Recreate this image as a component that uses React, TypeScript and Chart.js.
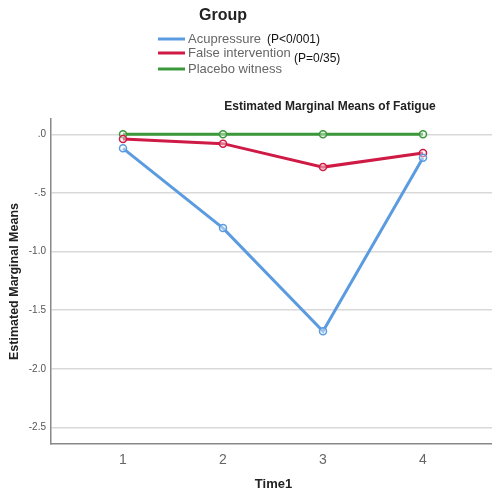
import React, { useEffect, useRef } from "react";
import { Chart, registerables } from "chart.js";

Chart.register(...registerables);

const timeLabels = [1, 2, 3, 4];
const acupressure = [-0.12, -0.8, -1.68, -0.2];
const falseIntervention = [-0.04, -0.08, -0.28, -0.16];
const placeboWitness = [0, 0, 0, 0];
const groupNames = ["Acupressure", "False intervention", "Placebo witness"];
const pNotes = ["(P<0/001)", "(P=0/35)", ""];
const groupColors = ["#5b9be0", "#cf1a45", "#3b983b"];
const yTicks = [0, -0.5, -1, -1.5, -2, -2.5];
const chartTitle = "Estimated Marginal Means of Fatigue";
const yTitle = "Estimated Marginal Means";
const xTitle = "Time1";
const legendTitle = "Group";

const FONT = "'Liberation Sans', Arial, sans-serif";

const fmtTick = (v: number) => {
  if (v === 0) return ".0";
  return v.toFixed(1).replace("-0.", "-.");
};

const textPlugin = {
  id: "customText",
  afterDraw(chart: any) {
    const ctx = chart.ctx as CanvasRenderingContext2D;
    const area = chart.chartArea;
    ctx.save();
    // Legend title
    ctx.fillStyle = "#222";
    ctx.font = `bold 16px ${FONT}`;
    ctx.textAlign = "left";
    ctx.textBaseline = "middle";
    ctx.fillText(legendTitle, 199, 16);
    // Legend items
    const rowY = [39, 53, 69];
    const noteX = [267, 294, 0];
    const noteY = [40, 59, 0];
    groupNames.forEach((name, i) => {
      ctx.strokeStyle = groupColors[i];
      ctx.lineWidth = 3;
      ctx.beginPath();
      ctx.moveTo(158, rowY[i]);
      ctx.lineTo(185, rowY[i]);
      ctx.stroke();
      ctx.fillStyle = "#666";
      ctx.font = `13px ${FONT}`;
      ctx.textAlign = "left";
      ctx.textBaseline = "middle";
      ctx.fillText(name, 188, rowY[i]);
      if (pNotes[i]) {
        ctx.fillStyle = "#111";
        ctx.font = `12px ${FONT}`;
        ctx.fillText(pNotes[i], noteX[i], noteY[i]);
      }
    });
    // Chart title
    ctx.fillStyle = "#222";
    ctx.font = `bold 12px ${FONT}`;
    ctx.textAlign = "center";
    ctx.textBaseline = "middle";
    ctx.fillText(chartTitle, 330, 107);
    // X title
    ctx.font = `bold 13px ${FONT}`;
    ctx.fillText(xTitle, (area.left + area.right) / 2 + 2, 484);
    // Y title
    ctx.translate(15, (area.top + area.bottom) / 2);
    ctx.rotate(-Math.PI / 2);
    ctx.font = `bold 12.5px ${FONT}`;
    ctx.fillText(yTitle, 0, 0);
    ctx.restore();
  },
};

export default function App() {
  const ref = useRef<HTMLCanvasElement>(null);
  useEffect(() => {
    const series = [acupressure, falseIntervention, placeboWitness];
    const chart = new Chart(ref.current!, {
      type: "line",
      data: {
        datasets: series.map((vals, i) => ({
          label: groupNames[i],
          data: vals.map((v, j) => ({ x: timeLabels[j], y: v })),
          borderColor: groupColors[i],
          backgroundColor: groupColors[i],
          borderWidth: 3,
          pointRadius: 3.5,
          pointBorderWidth: 1.5,
          pointBackgroundColor: "rgba(255,255,255,0.4)",
          pointBorderColor: groupColors[i],
          tension: 0,
        })),
      },
      options: {
        animation: false,
        responsive: false,
        maintainAspectRatio: false,
        layout: { autoPadding: false, padding: { top: 119, left: 0, right: 0, bottom: 0 } },
        plugins: {
          legend: { display: false },
          tooltip: { enabled: false },
          title: { display: false },
        },
        scales: {
          x: {
            type: "linear",
            min: 0.28,
            max: 4.69,
            afterBuildTicks: (scale: any) => {
              scale.ticks = timeLabels.map((v) => ({ value: v }));
            },
            afterFit: (scale: any) => {
              scale.height = 46;
            },
            grid: { display: false, drawTicks: false },
            border: { display: true, color: "#888", width: 1.5 },
            ticks: {
              color: "#666",
              font: { family: FONT, size: 14 },
              padding: 8,
              callback: (v: any) => String(v),
              autoSkip: false,
              maxRotation: 0,
            },
          },
          y: {
            type: "linear",
            min: -2.64,
            max: 0.13,
            afterBuildTicks: (scale: any) => {
              scale.ticks = yTicks.map((v) => ({ value: v }));
            },
            afterFit: (scale: any) => {
              scale.width = 51;
            },
            grid: { color: "#d9d9d9", lineWidth: 1.5, drawTicks: false },
            border: { display: true, color: "#888", width: 1.5 },
            ticks: {
              color: "#555",
              font: { family: FONT, size: 10 },
              padding: 5,
              callback: (v: any) => fmtTick(Number(v)),
            },
          },
        },
      },
      plugins: [textPlugin],
    } as any);
    return () => chart.destroy();
  }, []);
  return (
    <div style={{ position: "fixed", left: 0, top: 0, width: 492, height: 490, background: "#fff" }}>
      <canvas ref={ref} width={492} height={490} style={{ width: 492, height: 490 }} />
    </div>
  );
}
